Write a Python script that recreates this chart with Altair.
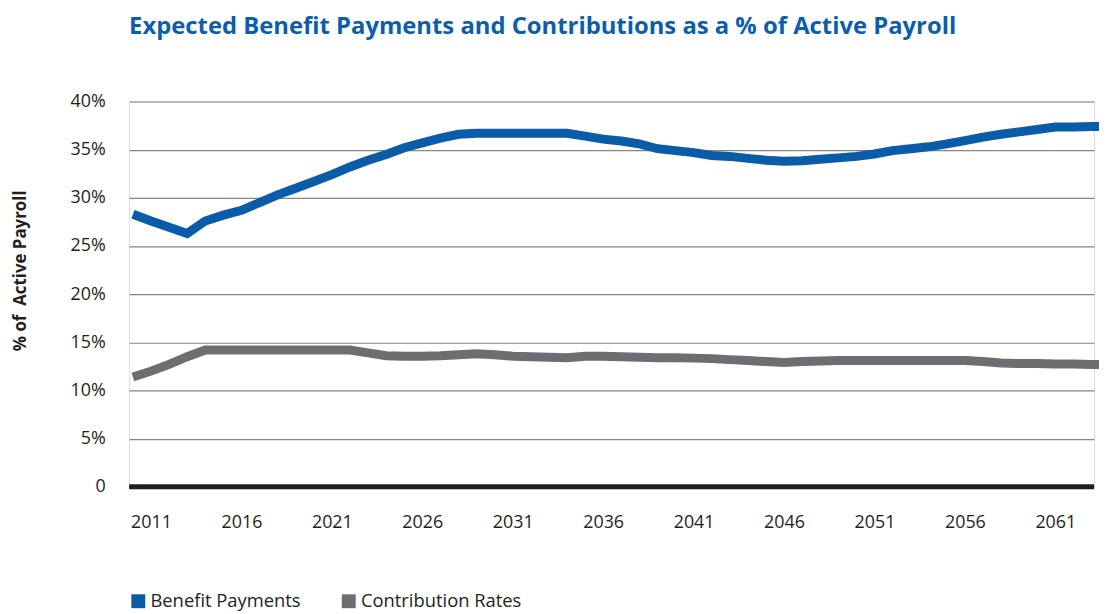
import altair as alt
import pandas as pd

years = list(range(2010, 2065))
benefit = [
    28.3, 27.6, 26.95, 26.3, 27.6, 28.2, 28.7, 29.5, 30.3, 31.0,
    31.7, 32.4, 33.2, 33.9, 34.5, 35.2, 35.7, 36.2, 36.6, 36.7,
    36.7, 36.7, 36.7, 36.7, 36.7, 36.4, 36.1, 35.9, 35.6, 35.1,
    34.9, 34.7, 34.4, 34.3, 34.1, 33.9, 33.8, 33.85, 34.0, 34.15,
    34.3, 34.55, 34.9, 35.1, 35.3, 35.6, 35.95, 36.3, 36.6, 36.85,
    37.1, 37.35, 37.35, 37.4, 37.4,
]
contrib = [
    11.4, 12.0, 12.7, 13.5, 14.2, 14.2, 14.2, 14.2, 14.2, 14.2,
    14.2, 14.2, 14.2, 13.9, 13.6, 13.55, 13.55, 13.6, 13.7, 13.8,
    13.7, 13.55, 13.5, 13.45, 13.4, 13.55, 13.55, 13.5, 13.45, 13.4,
    13.4, 13.35, 13.3, 13.2, 13.1, 13.0, 12.9, 13.0, 13.05, 13.1,
    13.1, 13.1, 13.1, 13.1, 13.1, 13.1, 13.1, 13.0, 12.85, 12.8,
    12.8, 12.75, 12.75, 12.7, 12.7,
]
series_names = ["Benefit Payments", "Contribution Rates"]
colors = ["#0a5ca8", "#6d6e71"]
x_ticks = [2011, 2016, 2021, 2026, 2031, 2036, 2041, 2046, 2051, 2056, 2061]
y_ticks = [0, 0.05, 0.10, 0.15, 0.20, 0.25, 0.30, 0.35, 0.40]
title_text = "Expected Benefit Payments and Contributions as a % of Active Payroll"
y_title = "% of\u00a0 Active Payroll"

rows = []
for yr, b, c in zip(years, benefit, contrib):
    rows.append({"year": yr, "series": series_names[0], "value": b / 100})
    rows.append({"year": yr, "series": series_names[1], "value": c / 100})
df = pd.DataFrame(rows)
zero_df = pd.DataFrame({"v": [y_ticks[0]]})

W, H = 972, 388
FONT = "Open Sans"
TXT = "#231f20"

x_scale = alt.Scale(domain=[2009.79, 2063.14], nice=False, zero=False)
y_scale = alt.Scale(domain=[0, 0.40], nice=False)

lines = alt.Chart(df).mark_line(strokeWidth=9).encode(
    x=alt.X("year:Q", scale=x_scale,
            axis=alt.Axis(values=x_ticks, format="d", title=None, grid=False,
                          ticks=False, domain=False, labelFont=FONT,
                          labelFontSize=18, labelColor=TXT, labelPadding=27,
                          labelBaseline="top", labelFlush=False, labelOverlap=False)),
    y=alt.Y("value:Q", scale=y_scale,
            axis=alt.Axis(values=y_ticks, title=y_title,
                          labelExpr="datum.value == 0 ? '0' : format(datum.value, '.0%')",
                          grid=True, gridColor="#858585", gridWidth=1.2,
                          ticks=False, domain=False, labelFont=FONT,
                          labelFontSize=18, labelColor=TXT, labelPadding=24,
                          labelBaseline="middle", labelFlush=False,
                          titleFont=FONT, titleFontSize=17, titleFontWeight="bold",
                          titleColor=TXT, titleAngle=270, titleX=-104, titleY=170,
                          titleAlign="center", titleBaseline="alphabetic")),
    color=alt.Color("series:N", scale=alt.Scale(domain=series_names, range=colors),
                    legend=alt.Legend(orient="none", legendX=0, legendY=494,
                                      direction="horizontal", title=None,
                                      symbolType="square", symbolSize=25,
                                      symbolStrokeWidth=9, labelFont=FONT,
                                      labelFontSize=18.5, labelColor=TXT,
                                      labelLimit=400, labelOffset=3,
                                      columnPadding=27)),
)

zero = alt.Chart(zero_df).mark_rule(color=TXT, strokeWidth=5).encode(
    y=alt.Y("v:Q", scale=y_scale),
    x=alt.value(0),
    x2=alt.value(W),
)

chart = alt.layer(lines, zero).properties(
    width=W,
    height=H,
    title=alt.TitleParams(title_text, anchor="start", frame="group", font=FONT,
                          fontSize=24, fontWeight="bold", color="#0b5eab",
                          offset=54),
    autosize=alt.AutoSizeParams(type="none"),
    padding={"left": 122, "top": 92, "right": 5, "bottom": 124},
).configure_view(stroke=None).configure(background="white")

chart.save("out.html", embed_options={"renderer": "svg", "actions": False})
